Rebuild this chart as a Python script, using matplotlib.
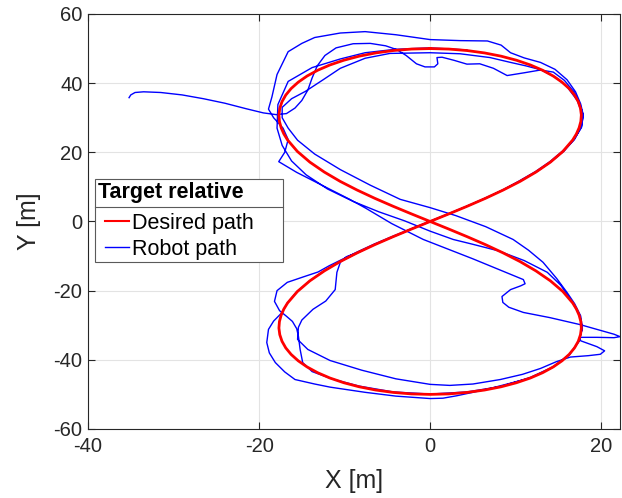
import numpy as np
import matplotlib
matplotlib.use("Agg")
import matplotlib.pyplot as plt
from matplotlib.lines import Line2D
from matplotlib.patches import Rectangle

plt.rcParams['font.family'] = ['Liberation Sans', 'DejaVu Sans']
plt.rcParams['axes.unicode_minus'] = False

# desired figure-eight path (x, y in metres)
desired_x = [0, 2.18, 4.31, 6.36, 8.30, 10.09, 11.72, 13.15, 14.39, 15.42, 16.25, 16.88, 17.32, 17.58, 17.68, 17.62, 17.42, 17.10,
             16.67, 15.52, 14.06, 12.37, 10.52, 8.53, 6.47, 4.34, 2.18, 0,
             -2.18, -4.34, -6.47, -8.53, -10.52, -12.37, -14.06, -15.52, -16.67, -17.10, -17.42, -17.62, -17.68, -17.58, -17.32,
             -16.88, -16.25, -15.42, -14.39, -13.15, -11.72, -10.09, -8.30, -6.36, -4.31, -2.18, 0,
             2.18, 4.31, 6.36, 8.30, 10.09, 11.72, 13.15, 14.39, 15.42, 16.25, 16.88, 17.32, 17.58, 17.68, 17.62, 17.42, 17.10,
             16.67, 15.52, 14.06, 12.37, 10.52, 8.53, 6.47, 4.34, 2.18, 0,
             -2.18, -4.34, -6.47, -8.53, -10.52, -12.37, -14.06, -15.52, -16.67, -17.10, -17.42, -17.62, -17.68, -17.58, -17.32,
             -16.88, -16.25, -15.42, -14.39, -13.15, -11.72, -10.09, -8.30, -6.36, -4.31, -2.18, 0]
desired_y = [50, 49.86, 49.43, 48.74, 47.80, 46.63, 45.26, 43.73, 42.06, 40.29, 38.45, 36.56, 34.64, 32.72, 30.82, 28.94, 27.10, 25.31,
             23.57, 20.25, 17.16, 14.29, 11.60, 9.08, 6.70, 4.41, 2.19, 0,
             -2.19, -4.41, -6.70, -9.08, -11.60, -14.29, -17.16, -20.25, -23.57, -25.31, -27.10, -28.94, -30.82, -32.72, -34.64,
             -36.56, -38.45, -40.29, -42.06, -43.73, -45.26, -46.63, -47.80, -48.74, -49.43, -49.86, -50,
             -49.86, -49.43, -48.74, -47.80, -46.63, -45.26, -43.73, -42.06, -40.29, -38.45, -36.56, -34.64, -32.72, -30.82, -28.94,
             -27.10, -25.31, -23.57, -20.25, -17.16, -14.29, -11.60, -9.08, -6.70, -4.41, -2.19, 0,
             2.19, 4.41, 6.70, 9.08, 11.60, 14.29, 17.16, 20.25, 23.57, 25.31, 27.10, 28.94, 30.82, 32.72, 34.64,
             36.56, 38.45, 40.29, 42.06, 43.73, 45.26, 46.63, 47.80, 48.74, 49.43, 49.86, 50]

# robot path, one lap at a time
robot_lap1 = [(-35.2, 35.8), (-35.0, 36.6), (-34.5, 37.3), (-33.5, 37.5), (-31.5, 37.3), (-29.0, 36.6), (-26.5, 35.5),
              (-24.0, 34.2), (-21.5, 32.6), (-19.5, 31.4), (-18.0, 30.9), (-16.8, 31.2), (-15.8, 32.8), (-15.0, 35.0),
              (-14.3, 38.0), (-13.8, 41.5), (-13.2, 45.0), (-12.3, 48.0), (-11.0, 50.2), (-9.0, 51.4), (-7.0, 51.5),
              (-5.2, 50.8), (-3.9, 49.7), (-2.8, 48.0), (-1.6, 45.6), (-0.6, 44.7), (0.5, 44.7), (0.9, 45.6), (0.8, 47.4),
              (1.4, 47.5), (2.8, 46.6), (4.3, 45.5), (5.8, 45.6), (7.4, 44.3), (9.0, 42.2), (11.0, 43.0), (12.9, 43.8),
              (14.4, 43.2), (15.7, 40.8), (16.8, 37.5), (17.5, 34.0), (17.9, 30.8), (17.7, 27.2), (16.8, 23.6), (15.5, 20.4),
              (14.0, 17.3), (12.3, 14.4), (10.4, 11.7), (8.5, 9.1), (6.4, 6.7), (4.3, 4.4), (2.2, 2.2), (0.0, 0.0),
              (-2.2, -2.2), (-4.3, -4.4), (-6.5, -6.7), (-8.5, -9.0), (-9.8, -10.2), (-10.5, -11.8), (-10.9, -14.7),
              (-11.1, -19.7), (-12.2, -23.0), (-13.7, -25.4), (-15.0, -28.5), (-15.4, -30.6), (-15.5, -34.1), (-14.3, -37.0),
              (-11.7, -40.2), (-8.0, -43.0), (-4.0, -45.5), (0.0, -47.1), (2.3, -47.4), (5.0, -47.0), (8.2, -45.7),
              (10.8, -44.2), (12.9, -42.5), (14.8, -40.5), (16.4, -39.2), (18.5, -38.8), (19.9, -38.4), (20.4, -37.4),
              (19.5, -36.2), (17.6, -34.5), (17.5, -33.5), (19.5, -33.5), (21.5, -33.6), (22.2, -33.3), (21.5, -32.6),
              (19.5, -31.2), (17.5, -29.8), (14.0, -27.8), (10.9, -26.3), (9.2, -24.8), (8.5, -23.4), (8.4, -21.7),
              (9.4, -19.7), (10.6, -18.6), (11.1, -18.0), (10.9, -16.8), (5.0, -10.8), (-0.8, -5.2), (-4.5, -0.6),
              (-7.5, 3.8), (-9.4, 6.4), (-12.5, 10.3), (-15.6, 14.2), (-17.7, 17.3), (-17.0, 20.0), (-16.6, 23.7),
              (-17.2, 27.0), (-18.3, 30.0), (-18.9, 32.5), (-18.5, 36.0), (-17.9, 42.5), (-16.6, 49.1), (-15.0, 51.5),
              (-13.5, 53.2), (-10.5, 54.5), (-7.6, 54.9), (-4.0, 54.0), (0.0, 52.6), (3.5, 52.3), (6.7, 52.2), (8.3, 51.0),
              (9.4, 48.8), (11.0, 47.3), (12.9, 46.0), (14.6, 44.0), (16.0, 41.0), (17.0, 37.5), (17.6, 34.0), (17.9, 30.8),
              (17.7, 27.5)]
robot_lap2 = [(16.9, 23.8), (15.7, 20.5), (14.2, 17.4), (12.5, 14.5), (10.6, 11.8), (8.6, 9.2), (6.5, 6.8), (4.4, 4.5),
              (2.2, 2.3), (0.0, 0.1), (-2.2, -2.1), (-4.4, -4.3), (-6.6, -6.6), (-8.6, -8.9), (-10.5, -11.2), (-11.8, -12.8),
              (-13.1, -14.6), (-14.8, -16.0), (-16.7, -17.6), (-17.9, -20.0), (-18.2, -23.1), (-17.6, -25.8), (-16.8, -27.4),
              (-16.1, -28.9), (-15.6, -31.0), (-15.4, -33.2), (-15.2, -37.0), (-14.9, -40.8), (-13.8, -43.4), (-11.5, -45.5),
              (-8.3, -47.6), (-4.3, -49.3), (0.0, -49.9), (4.3, -49.3), (8.3, -47.7), (11.7, -45.1), (14.4, -42.0),
              (16.3, -38.4), (17.4, -34.6), (17.8, -30.8), (17.6, -27.3), (16.9, -23.8), (16.0, -20.5), (14.8, -16.5),
              (13.2, -11.8), (11.5, -8.3), (9.7, -5.2), (6.5, -1.5), (3.0, 1.7), (0.0, 4.0), (-3.5, 6.4), (-7.0, 10.5),
              (-10.5, 15.0), (-13.5, 19.5), (-15.5, 23.5), (-16.6, 27.0), (-17.3, 30.0), (-17.3, 33.0), (-16.2, 35.5),
              (-14.6, 37.6), (-12.5, 41.0), (-10.5, 44.3), (-7.6, 47.2), (-4.7, 48.6), (0.0, 48.8), (3.5, 48.5), (7.0, 47.4),
              (9.4, 46.0), (11.2, 45.0), (12.9, 43.9), (14.6, 41.8), (16.0, 39.0), (17.2, 35.0), (17.8, 31.0), (17.6, 27.3)]
robot_lap3 = [(16.7, 23.6), (15.6, 20.3), (14.1, 17.2), (12.4, 14.3), (10.5, 11.6), (8.5, 9.1), (6.5, 6.7), (4.3, 4.4),
              (2.2, 2.2), (0.0, 0.0), (-2.2, -2.2), (-4.3, -4.4), (-6.5, -6.7), (-8.5, -9.1), (-10.5, -11.6), (-12.4, -14.3),
              (-14.1, -17.2), (-15.6, -20.3), (-16.7, -23.6), (-17.3, -26.3), (-18.3, -28.8), (-18.9, -31.2), (-19.1, -35.0),
              (-18.8, -38.0), (-18.1, -40.8), (-17.0, -43.5), (-15.8, -45.7), (-13.5, -47.0), (-11.7, -47.9), (-7.6, -49.4),
              (-4.0, -50.5), (0.0, -51.2), (1.5, -51.1), (3.1, -50.4), (5.0, -49.4), (7.0, -48.3), (9.0, -47.0),
              (11.8, -45.2), (14.4, -42.1), (16.3, -38.5), (17.4, -34.7), (17.8, -30.9), (17.5, -27.2), (16.7, -23.7),
              (15.3, -18.5), (13.7, -14.7), (11.0, -11.3), (8.0, -8.5), (5.0, -6.6), (2.7, -5.2), (0.0, -2.8), (-3.0, 0.2),
              (-6.0, 2.8), (-9.0, 5.8), (-12.0, 9.4), (-14.5, 13.5), (-16.2, 17.5), (-17.3, 22.0), (-17.9, 27.0),
              (-17.8, 33.8), (-16.6, 40.5), (-13.8, 44.5), (-10.5, 47.0), (-7.6, 48.8), (-4.0, 49.8), (0.0, 50.2), (4.3, 49.6)]

robot = np.array(robot_lap1 + robot_lap2 + robot_lap3)

x_ticks = [-40, -20, 0, 20]
y_ticks = [-60, -40, -20, 0, 20, 40, 60]
legend_title = 'Target relative'
legend_labels = ['Desired path', 'Robot path']

fig = plt.figure(figsize=(6.22, 4.98), dpi=100)
ax = fig.add_axes([0.1415, 0.1386, 0.8553, 0.8333])

ax.plot(robot[:, 0], robot[:, 1], color='#0000FF', lw=1.0, zorder=2, solid_joinstyle='round')
ax.plot(desired_x, desired_y, color='#FF0000', lw=2.0, zorder=3, solid_joinstyle='round')

ax.set_xlim(-40, 22.2)
ax.set_ylim(-60, 60)
ax.set_xticks(x_ticks)
ax.set_yticks(y_ticks)
ax.grid(True, color='#E3E3E3', lw=0.8)
ax.set_axisbelow(True)
ax.tick_params(direction='in', top=True, right=True, labelsize=14.5, colors='#262626', length=5, pad=4)
ax.tick_params(axis='x', pad=6)
for sp in ax.spines.values():
    sp.set_color('#262626')
    sp.set_linewidth(0.8)
ax.set_xlabel('X [m]', fontsize=18, color='#262626', labelpad=9)
ax.set_ylabel('Y [m]', fontsize=18, color='#262626', labelpad=9)

# legend box: frame, bold title with a rule under it, then the two entries
ax.add_patch(Rectangle((0.0132, 0.4024), 0.3533, 0.2000, transform=ax.transAxes,
                       facecolor='white', edgecolor='#5A5A5A', lw=0.8, zorder=5))
ax.add_artist(Line2D([0.0132, 0.3665], [0.535, 0.535], transform=ax.transAxes,
                     color='#5A5A5A', lw=0.8, zorder=6))
ax.text(0.0185, 0.5687, legend_title, transform=ax.transAxes, fontsize=15.5,
        fontweight='bold', va='center', ha='left', zorder=6)

handles = [Line2D([], [], color='#FF0000', lw=1.5), Line2D([], [], color='#0000FF', lw=1.0)]
leg = ax.legend(handles, legend_labels, fontsize=15.5, loc='upper left',
                bbox_to_anchor=(0.0325, 0.5215), borderaxespad=0, borderpad=0,
                frameon=False, handlelength=1.1, handletextpad=0.12, labelspacing=0.24)
leg.set_zorder(7)

fig.savefig('out.png', dpi=100)
